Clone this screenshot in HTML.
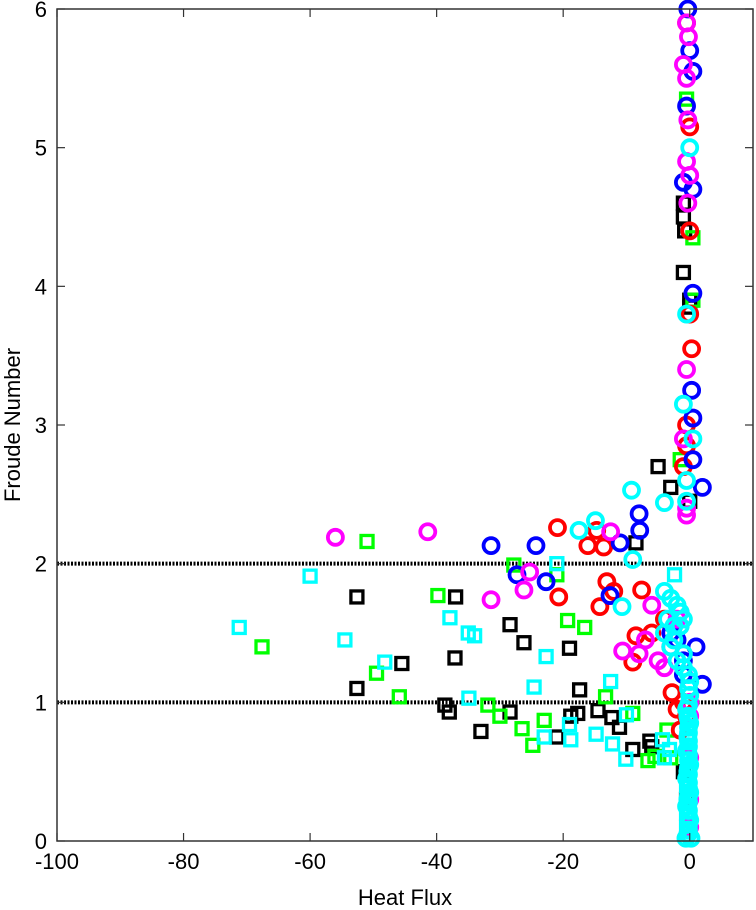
<!DOCTYPE html>
<html><head><meta charset="utf-8"><style>
html,body{margin:0;padding:0;background:#fff;}
svg{display:block;font-family:"Liberation Sans",sans-serif;}
</style></head><body>
<svg id="chart" width="756" height="910" viewBox="0 0 756 910" xmlns="http://www.w3.org/2000/svg">
<g id="marks"></g>
<g id="axes"></g>
</svg>
<script>
const xTicks=[-100,-80,-60,-40,-20,0];
const yTicks=[0,1,2,3,4,5,6];
const refLines=[1,2];
const redCircles=[[-20.9,2.26],[-14.7,2.24],[-16.1,2.13],[-13.6,2.12],[-13.1,1.87],[-14.2,1.69],[-20.7,1.76],[-7.6,1.81],[-8.5,1.48],[-9,1.29],[-2.8,1.07],[-0.5,5.9],[0,5.15],[0,4.4],[0,3.8],[0.3,3.55],[-0.5,3.0],[-0.5,2.85],[-1,2.7],[-1,1.0],[-0.5,0.9],[-1.5,0.8],[-4,1.6],[-6,1.5],[-12,1.8],[-2,0.95]];
const blueCircles=[[-31.4,2.13],[-24.3,2.13],[-27.3,1.92],[-22.7,1.87],[-8,2.36],[-7.9,2.24],[-11,2.15],[-12.6,1.77],[-0.3,6.0],[0,5.7],[-0.5,5.3],[0.5,5.55],[-1,4.75],[0.5,4.7],[0.5,3.95],[0.3,3.25],[0.5,3.05],[0.5,2.75],[2,2.55],[1,1.4],[2,1.13],[-3,1.5],[-1,1.3],[-2,1.45],[-1,1.2]];
const magentaCircles=[[-56,2.19],[-41.4,2.23],[-31.4,1.74],[-26.2,1.81],[-25.3,1.94],[-12.5,2.23],[-10.6,1.37],[-5,1.3],[-4,1.25],[-3,1.4],[-7,1.45],[-2,1.6],[-6,1.7],[-8,1.35],[-0.5,5.9],[-0.2,5.8],[-0.5,5.5],[-0.3,5.2],[-0.5,4.9],[-0.3,4.6],[-0.5,3.4],[-1,2.9],[-0.5,2.4],[-0.5,2.35],[0,1.0],[0,0.9],[0,0.6],[0,0.3],[0,0.1],[-1,5.6],[0,4.8]];
const cyanCircles=[[-9.2,2.53],[-4,2.44],[-14.9,2.31],[-17.5,2.24],[-9,2.03],[-10.7,1.69],[0,5.0],[-0.5,3.8],[-1,3.15],[0.5,2.9],[-0.5,2.6],[-0.5,2.45],[-4,1.8],[-3,1.75],[-2,1.7],[-3.5,1.6],[-1.5,1.55],[-4,1.5],[-2.5,1.45],[-3,1.4],[-1,1.35],[-1,1.25],[0,1.15],[0,1.05],[-0.5,0.95],[0,0.85],[-0.3,0.75],[-0.5,0.65],[0,0.55],[-0.5,0.45],[0,0.35],[-0.5,0.25],[0,0.15],[-0.3,0.05],[-0.3,0.5],[-0.3,0.3],[-0.3,0.9],[-0.2,0.08],[-0.2,0.12],[-0.2,0.18],[-0.2,0.22],[-0.2,0.28],[-0.2,0.33],[-0.2,0.38],[-0.2,0.42],[-0.2,0.48],[-0.2,0.53],[-0.2,0.58],[-0.2,0.62],[-0.2,0.68],[-0.2,0.72],[-0.2,0.78],[-0.2,0.82],[-0.2,0.88],[-0.2,0.98],[-0.2,1.1],[-0.2,1.2],[-0.6,0.02],[0.2,0.02],[-1.5,1.65],[-2.5,1.55],[-1,1.6],[-2,1.3]];
const blackSquares=[[-52.6,1.76],[-37,1.76],[-52.6,1.1],[-45.5,1.28],[-37.1,1.32],[-38.7,0.98],[-38,0.93],[-33,0.79],[-28.4,0.93],[-28.4,1.56],[-26.2,1.43],[-19,1.39],[-21,0.75],[-17.4,1.09],[-18.8,0.9],[-17.7,0.92],[-14.5,0.94],[-12.3,0.89],[-11.1,0.82],[-9,0.66],[-6.3,0.72],[-5,2.7],[-3,2.55],[-8.5,2.15],[-1,4.6],[-1,4.5],[-0.8,4.4],[-1,4.1],[0,3.9],[0,3.85],[0,2.45],[-1,0.5],[-0.5,0.3],[-6,0.68]];
const greenSquares=[[-51,2.16],[-67.6,1.4],[-49.5,1.21],[-45.9,1.04],[-39.8,1.77],[-31.9,0.98],[-30,0.9],[-26.5,0.81],[-24.8,0.69],[-23,0.87],[-19.3,1.59],[-16.6,1.54],[-13.3,1.04],[-9,0.92],[-6.6,0.58],[-5.5,0.61],[-3.6,0.8],[-27.8,1.99],[-21,1.92],[-0.5,5.35],[0.5,4.35],[0.5,3.9],[-1.5,2.75],[-3,0.6]];
const cyanSquares=[[-71.2,1.54],[-60,1.91],[-54.5,1.45],[-48.2,1.29],[-37.9,1.61],[-35,1.5],[-34,1.48],[-34.9,1.03],[-24.6,1.11],[-22.7,1.33],[-23,0.75],[-21,2.0],[-18.8,0.73],[-19,0.84],[-14.8,0.77],[-12.5,1.15],[-12.2,0.7],[-10.1,0.59],[-10,0.91],[-2.4,1.92],[-4.3,0.73],[-3.2,0.66],[-4,0.6],[-0.5,0.4],[-0.5,0.2],[-0.5,0.1]];
const circleSeries=[["red-circles",redCircles,"#ff0000"],["blue-circles",blueCircles,"#0000ff"],["magenta-circles",magentaCircles,"#ff00ff"],["cyan-circles",cyanCircles,"#00ffff"]];
const squareSeries=[["black-squares",blackSquares,"#000000"],["green-squares",greenSquares,"#00ff00"],["cyan-squares",cyanSquares,"#00ffff"]];

const L=57,R=753,T=9,B=841,XMIN=-100,XMAX=10,YMIN=0,YMAX=6;
const sx=v=>L+(v-XMIN)/(XMAX-XMIN)*(R-L);
const sy=v=>B-(v-YMIN)/(YMAX-YMIN)*(B-T);
const NS="http://www.w3.org/2000/svg";
const marks=document.getElementById('marks'),axes=document.getElementById('axes');
function mk(tag,attrs,parent){const e=document.createElementNS(NS,tag);for(const k in attrs)e.setAttribute(k,attrs[k]);parent.appendChild(e);return e;}

refLines.forEach(v=>{
  const l=mk('line',{x1:L,x2:R,y1:sy(v),y2:sy(v),stroke:'#000','stroke-width':4,'stroke-dasharray':'2,1.5'},marks);
  
  
});
squareSeries.forEach(([name,data,col])=>{
  const g=mk('g',{},marks);
  
  
  data.forEach(([x,y])=>{
    const r=mk('rect',{x:sx(x)-6,y:sy(y)-6,width:12,height:12,fill:'none',stroke:col,'stroke-width':3.3},g);
    
    
  });
});
circleSeries.forEach(([name,data,col])=>{
  const g=mk('g',{},marks);
  
  
  data.forEach(([x,y])=>{
    const c=mk('circle',{cx:sx(x),cy:sy(y),r:7.5,fill:'none',stroke:col,'stroke-width':3.8},g);
    
    
  });
});
const fr=mk('rect',{x:L,y:T,width:R-L,height:B-T,fill:'none',stroke:'#333','stroke-width':1.5},axes);


xTicks.forEach(v=>{
  const x=sx(v);
  mk('line',{x1:x,x2:x,y1:B,y2:B-8,stroke:'#333','stroke-width':1.2},axes);
  mk('line',{x1:x,x2:x,y1:T,y2:T+8,stroke:'#333','stroke-width':1.2},axes);
  const t=mk('text',{x:x,y:B+28,'font-size':22,'text-anchor':'middle',fill:'#000'},axes);
  t.textContent=v;
  
  
});
yTicks.forEach(v=>{
  const y=sy(v);
  mk('line',{x1:L,x2:L+8,y1:y,y2:y,stroke:'#333','stroke-width':1.2},axes);
  mk('line',{x1:R,x2:R-8,y1:y,y2:y,stroke:'#333','stroke-width':1.2},axes);
  const t=mk('text',{x:L-10,y:y+8,'font-size':22,'text-anchor':'end',fill:'#000'},axes);
  t.textContent=v;
  
  
});
const xt=mk('text',{x:405,y:905,'font-size':22,'text-anchor':'middle',fill:'#000'},axes);
xt.textContent='Heat Flux';


const yt=mk('text',{x:0,y:0,'font-size':22,'text-anchor':'middle',fill:'#000',transform:'translate(20,425) rotate(-90)'},axes);
yt.textContent='Froude Number';


</script>
</body></html>
